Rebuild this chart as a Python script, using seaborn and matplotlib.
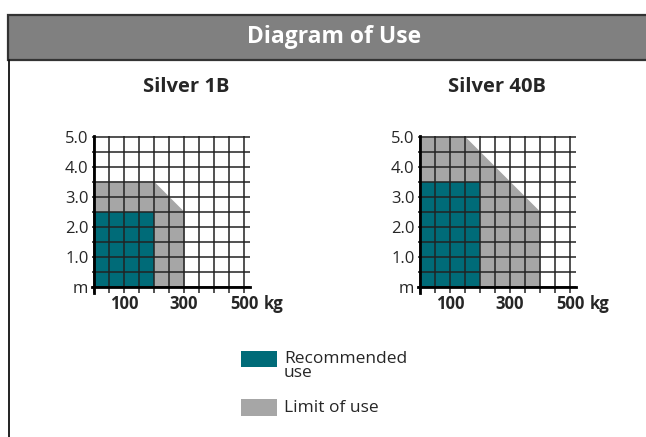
import numpy as np
import pandas as pd
import matplotlib
matplotlib.use("Agg")
import matplotlib.pyplot as plt
import seaborn as sns
from matplotlib.patches import Rectangle
from matplotlib.lines import Line2D

# ---- data ----
models = ["Silver 1B", "Silver 40B"]
# limit-of-use outline (load kg, height m)
limit_load_1b = [0, 200, 300]
limit_height_1b = [3.5, 3.5, 2.5]
limit_load_40b = [0, 150, 400]
limit_height_40b = [5.0, 5.0, 2.5]
# recommended use rectangle (load kg, height m)
rec_load_1b = [0, 200]
rec_height_1b = [2.5, 2.5]
rec_load_40b = [0, 200]
rec_height_40b = [3.5, 3.5]

x_ticks = [100, 300, 500]
x_tick_labels = ["100", "300", "500"]
y_ticks = [0, 1, 2, 3, 4, 5]
y_tick_labels = ["m", "1.0", "2.0", "3.0", "4.0", "5.0"]

legend_labels = ["Recommended\nuse", "Limit of use"]
header_title = "Diagram of Use"

TEAL = "#006b78"
GRAY = "#a6a6a6"
HEADER = "#808080"

sns.set_style("white")
plt.rcParams["font.family"] = ["Open Sans", "DejaVu Sans"]

W, H = 646, 437
fig = plt.figure(figsize=(W / 100, H / 100), dpi=100)

def fx(px):
    return px / W

def fy(py):
    return 1 - py / H

# header bar
fig.patches.append(Rectangle((fx(8), fy(60)), 1, (60 - 15) / H, transform=fig.transFigure,
                             facecolor=HEADER, edgecolor="#333333", linewidth=1.6, zorder=0))
fig.add_artist(Line2D([fx(9), fx(9)], [0, fy(60)], transform=fig.transFigure, color="#111111", lw=1.3))
fig.text(fx(334), fy(37), header_title, color="white", fontsize=16.5, fontweight="bold",
         ha="center", va="center")

XMIN, XMAX = -8, 520
YMIN, YMAX = -0.2, 5.05
PXK = 0.3   # px per kg
PXM = 30.0  # px per m

datasets = [
    (limit_load_1b, limit_height_1b, rec_load_1b, rec_height_1b, 94, 287, 186),
    (limit_load_40b, limit_height_40b, rec_load_40b, rec_height_40b, 420, 287, 497),
]

for (ll, lh, rl, rh, x0px, y0px, tcx), name in zip(datasets, models):
    left_px = x0px + XMIN * PXK
    width_px = (XMAX - XMIN) * PXK
    bottom_px = y0px - YMIN * PXM
    height_px = (YMAX - YMIN) * PXM
    ax = fig.add_axes([fx(left_px), fy(bottom_px), width_px / W, height_px / H])
    ax.set_xlim(XMIN, XMAX)
    ax.set_ylim(YMIN, YMAX)

    lim_df = pd.DataFrame({"load": ll, "height": lh})
    rec_df = pd.DataFrame({"load": rl, "height": rh})
    sns.lineplot(data=lim_df, x="load", y="height", ax=ax, color=GRAY, lw=0.5, zorder=1)
    ax.fill_between(lim_df["load"], 0, lim_df["height"], color=GRAY, lw=0, zorder=1)
    ax.fill_between(rec_df["load"], 0, rec_df["height"], color=TEAL, lw=0, zorder=2)
    ax.set_xlabel("")
    ax.set_ylabel("")

    # spines first (moving spines resets tick objects)
    for s in ["top", "right"]:
        ax.spines[s].set_visible(False)
    for s in ["left", "bottom"]:
        ax.spines[s].set_position(("data", 0))
        ax.spines[s].set_linewidth(2)
        ax.spines[s].set_color("black")
        ax.spines[s].set_zorder(4)

    ax.set_xticks(np.arange(0, 501, 50), minor=True)
    ax.set_yticks(np.arange(0, 5.01, 0.5), minor=True)
    ax.tick_params(which="both", length=0)
    ax.tick_params(axis="y", pad=4, labelsize=12)
    ax.tick_params(axis="x", pad=6, labelsize=12)
    ax.set_xticks(x_ticks)
    ax.set_xticklabels(x_tick_labels, fontsize=12, fontweight="bold")
    ax.set_yticks(y_ticks)
    ax.set_yticklabels(y_tick_labels, fontsize=12)
    ax.grid(which="both", color="#222222", lw=1.1, zorder=3)
    ax.set_axisbelow(False)

    ax.annotate("kg", xy=(x_ticks[-1], 0), xytext=(20, -17), textcoords="offset pixels",
                fontsize=12, fontweight="bold", ha="left", va="center", annotation_clip=False)
    fig.text(fx(tcx), fy(87), name, fontsize=14.5, fontweight="bold", ha="center", va="center")

# legend
fig.patches.append(Rectangle((fx(241), fy(367)), 36 / W, 16 / H, transform=fig.transFigure,
                             facecolor=TEAL, edgecolor="none"))
fig.patches.append(Rectangle((fx(241), fy(416)), 36 / W, 17 / H, transform=fig.transFigure,
                             facecolor=GRAY, edgecolor="none"))
fig.text(fx(284), fy(351), legend_labels[0], fontsize=12.5, ha="left", va="top", linespacing=0.85)
fig.text(fx(284), fy(408), legend_labels[1], fontsize=12.5, ha="left", va="center")

fig.savefig("out.png", dpi=100)
